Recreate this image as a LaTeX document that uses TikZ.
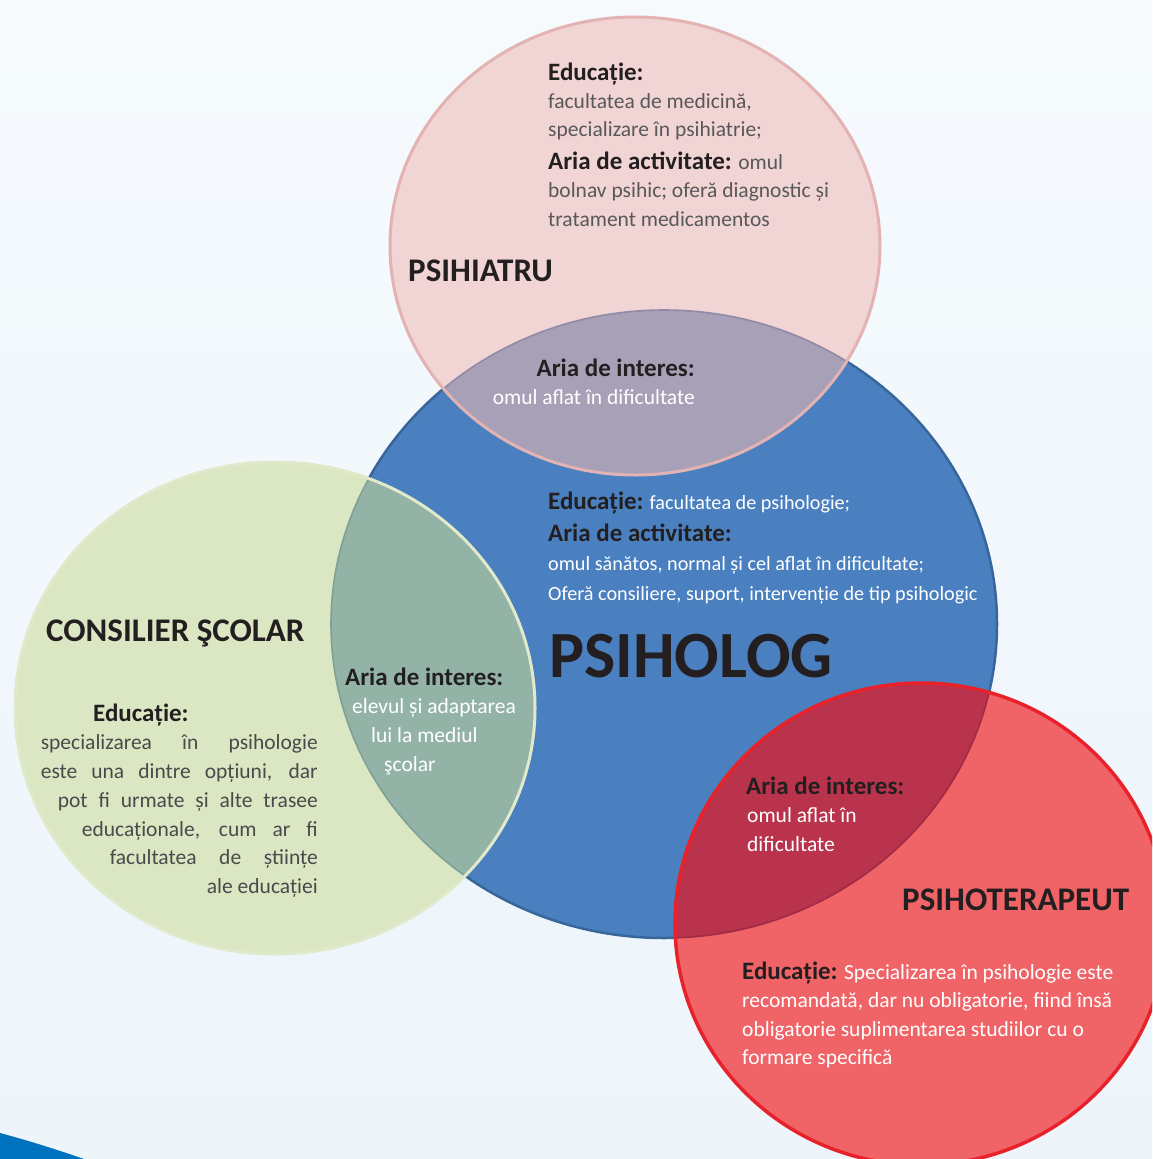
\documentclass[tikz,border=0pt]{standalone}
\usepackage{fontspec}
\setmainfont{Carlito}
\definecolor{bgtop}{HTML}{F6FAFD}
\definecolor{bgbot}{HTML}{EDF5FB}
\definecolor{cornerblue}{HTML}{0071BC}
\definecolor{bluefill}{HTML}{4A80BF}
\definecolor{bluestroke}{HTML}{38659A}
\definecolor{greenfill}{HTML}{DBE6C2}
\definecolor{greenedge}{HTML}{E0EACB}
\definecolor{greenlens}{HTML}{94B3A7}
\definecolor{greenlensedge}{HTML}{7FA096}
\definecolor{pinkfill}{HTML}{F1D4D4}
\definecolor{pinkstroke}{HTML}{E3B3B3}
\definecolor{pinklens}{HTML}{A8A0B6}
\definecolor{pinklensedge}{HTML}{918AA6}
\definecolor{redfill}{HTML}{F06467}
\definecolor{redstroke}{HTML}{E8222A}
\definecolor{redlens}{HTML}{B9334C}
\definecolor{redlensedge}{HTML}{A02B45}
\definecolor{ink}{HTML}{231F20}
\definecolor{greyt}{HTML}{58585A}
\definecolor{greygreen}{HTML}{4A4A4C}
\newcommand\lblf{\fontsize{25}{30}\selectfont\bfseries}
\newcommand\bodyf{\fontsize{21.5}{26}\selectfont}
\newcommand\bodyb{\fontsize{20.2}{24}\selectfont}
\newcommand\titlef{\fontsize{33}{40}\selectfont\bfseries}
\newcommand\bigtitlef{\fontsize{66}{76}\selectfont\bfseries}
\newcommand\lab[1]{{\lblf\color{ink}#1}}
\tikzset{
  txt/.style={inner sep=0pt, anchor=base west},
  txtr/.style={inner sep=0pt, anchor=base east},
}
\begin{document}
\begin{tikzpicture}[x=1pt,y=-1pt]
\useasboundingbox (0,0) rectangle (1152,1159);
\clip (0,0) rectangle (1152,1159);
\shade[top color=bgtop,bottom color=bgbot] (0,0) rectangle (1152,1159);
\fill[cornerblue] (0,1133) .. controls (30,1141) and (58,1150) .. (84,1159) -- (0,1159) -- cycle;

% PSIHOLOG (blue)
\fill[bluefill] (664,624) ellipse [x radius=333pt, y radius=314pt];
\draw[bluestroke, line width=2.5pt] (664,624) ellipse [x radius=333pt, y radius=314pt];

% CONSILIER (green)
\fill[greenfill] (275,708) ellipse [x radius=260pt, y radius=246pt];
\begin{scope}
  \clip (664,624) ellipse [x radius=333pt, y radius=314pt];
  \fill[greenlens] (275,708) ellipse [x radius=260pt, y radius=246pt];
\end{scope}
\begin{scope}
  \clip (275,708) ellipse [x radius=260pt, y radius=246pt];
  \draw[greenlensedge, line width=1.6pt] (664,624) ellipse [x radius=333pt, y radius=314pt];
\end{scope}
\draw[greenedge, line width=3pt] (275,708) ellipse [x radius=260pt, y radius=246pt];

% PSIHIATRU (pink)
\fill[pinkfill] (635,246) ellipse [x radius=245pt, y radius=229pt];
\begin{scope}
  \clip (664,624) ellipse [x radius=333pt, y radius=314pt];
  \fill[pinklens] (635,246) ellipse [x radius=245pt, y radius=229pt];
\end{scope}
\begin{scope}
  \clip (635,246) ellipse [x radius=245pt, y radius=229pt];
  \draw[pinklensedge, line width=1.6pt] (664,624) ellipse [x radius=333pt, y radius=314pt];
\end{scope}
\draw[pinkstroke, line width=3pt] (635,246) ellipse [x radius=245pt, y radius=229pt];

% PSIHOTERAPEUT (red)
\fill[redfill] (921,924) ellipse [x radius=246pt, y radius=241pt];
\begin{scope}
  \clip (664,624) ellipse [x radius=333pt, y radius=314pt];
  \fill[redlens] (921,924) ellipse [x radius=246pt, y radius=241pt];
\end{scope}
\begin{scope}
  \clip (921,924) ellipse [x radius=246pt, y radius=241pt];
  \draw[redlensedge, line width=1.6pt] (664,624) ellipse [x radius=333pt, y radius=314pt];
\end{scope}
\draw[redstroke, line width=3.5pt] (921,924) ellipse [x radius=246pt, y radius=241pt];

% Pink texts
\node[txt, font=\lblf, text=ink] (pEdu) at (548,80) {Educație:};
\node[txt, font=\bodyf, text=greyt] (pE1) at (548,108) {facultatea de medicină,};
\node[txt, font=\bodyf, text=greyt] (pE2) at (548,136) {specializare în psihiatrie;};
\node[txt, font=\bodyf, text=greyt] (pA1) at (548,169) {\lab{Aria de activitate:} omul};
\node[txt, font=\bodyf, text=greyt] (pA2) at (548,197) {bolnav psihic; oferă diagnostic și};
\node[txt, font=\bodyf, text=greyt] (pA3) at (548,226) {tratament medicamentos};
\node[txt, font=\titlef, text=ink] (pT) at (408,281) {PSIHIATRU};

% Pink lens
\node[txtr, font=\lblf, text=ink] (piA) at (695,376) {Aria de interes:};
\node[txtr, font=\bodyf, text=white] (piB) at (695,404) {omul aflat în dificultate};

% Blue texts
\node[txt, font=\bodyb, text=white] (bE) at (548,509) {\lab{Educație:} facultatea de psihologie;};
\node[txt, font=\lblf, text=ink] (bA) at (548,541) {Aria de activitate:};
\node[txt, font=\bodyb, text=white] (bA1) at (548,570) {omul sănătos, normal și cel aflat în dificultate;};
\node[txt, font=\bodyb, text=white] (bA2) at (548,600) {Oferă consiliere, suport, intervenție de tip psihologic};
\node[txt, font=\bigtitlef, text=ink] (bT) at (549,677) {PSIHOLOG};

% Green texts
\node[txt, font=\titlef, text=ink] (gT) at (46,641) {CONSILIER ŞCOLAR};
\node[txt, font=\lblf, text=ink] (gE) at (93,721) {Educație:};
\node[txtr, font=\bodyf, text=greygreen] (g1) at (318,749) {\makebox[277pt][s]{specializarea în psihologie}};
\node[txtr, font=\bodyf, text=greygreen] (g2) at (318,778) {\makebox[277pt][s]{este una dintre opțiuni, dar}};
\node[txtr, font=\bodyf, text=greygreen] (g3) at (318,807) {\makebox[260pt][s]{pot fi urmate și alte trasee}};
\node[txtr, font=\bodyf, text=greygreen] (g4) at (318,836) {\makebox[236pt][s]{educaționale, cum ar fi}};
\node[txtr, font=\bodyf, text=greygreen] (g5) at (318,864) {\makebox[208pt][s]{facultatea de științe}};
\node[txtr, font=\bodyf, text=greygreen] (g6) at (318,893) {ale educației};

% Green lens
\node[txt, font=\lblf, text=ink] (glA) at (345,685) {Aria de interes:};
\node[txt, font=\bodyf, text=white] (gl1) at (352,713) {elevul și adaptarea};
\node[txt, font=\bodyf, text=white] (gl2) at (371,742) {lui la mediul};
\node[txt, font=\bodyf, text=white] (gl3) at (384,771) {şcolar};

% Red lens
\node[txt, font=\lblf, text=ink] (rlA) at (746,794) {Aria de interes:};
\node[txt, font=\bodyf, text=white] (rl1) at (747,822) {omul aflat în};
\node[txt, font=\bodyf, text=white] (rl2) at (747,851) {dificultate};

% Red texts
\node[txt, font=\titlef, text=ink] (rT) at (902,910) {PSIHOTERAPEUT};
\node[txt, font=\bodyf, text=white] (r1) at (742,979) {\lab{Educație:} Specializarea în psihologie este};
\node[txt, font=\bodyf, text=white] (r2) at (742,1007) {recomandată, dar nu obligatorie, fiind însă};
\node[txt, font=\bodyf, text=white] (r3) at (742,1036) {obligatorie suplimentarea studiilor cu o};
\node[txt, font=\bodyf, text=white] (r4) at (742,1064) {formare specifică};
\end{tikzpicture}
\end{document}
